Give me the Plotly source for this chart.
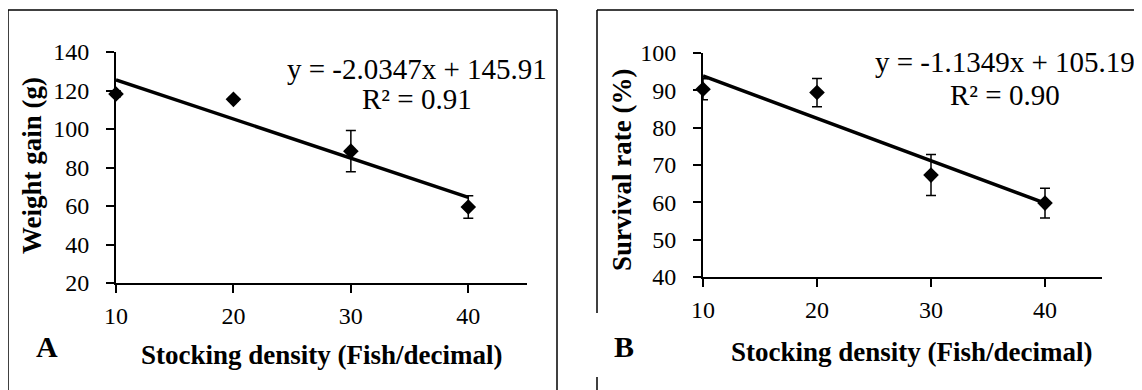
import plotly.graph_objects as go

W, H = 1142, 390
OFF = 8  # page body margin offset

# ---- Data ----
density = [10, 20, 30, 40]

weight_gain = [118.2, 115.4, 88.5, 59.5]
weight_gain_err = [1.5, 1.0, 10.7, 5.8]
wg_slope, wg_intercept = -2.0347, 145.91
wg_eq = "y = -2.0347x + 145.91"
wg_r2 = "R² = 0.91"

survival = [90.3, 89.4, 67.3, 59.8]
survival_err = [2.8, 3.8, 5.5, 4.0]
sr_slope, sr_intercept = -1.1349, 105.19
sr_eq = "y = -1.1349x + 105.19"
sr_r2 = "R² = 0.90"

x_title = "Stocking density (Fish/decimal)"
ya_title = "Weight gain (g)"
yb_title = "Survival rate (%)"


def px(x):
    return (x - OFF) / W


def py(y):
    return 1 - (y - OFF) / H


FONT = "Liberation Serif"

fig = go.Figure()

# Panel A
fig.add_trace(go.Scatter(
    x=density, y=weight_gain, mode="markers",
    marker=dict(symbol="diamond", size=12, color="black"),
    error_y=dict(type="data", array=weight_gain_err, color="black", thickness=1.5, width=5),
    cliponaxis=False, xaxis="x", yaxis="y", showlegend=False))
fit_x = [density[0], density[-1]]
fig.add_trace(go.Scatter(
    x=fit_x, y=[wg_slope * v + wg_intercept for v in fit_x], mode="lines",
    line=dict(color="black", width=3.5), cliponaxis=False,
    xaxis="x", yaxis="y", showlegend=False))

# Panel B
fig.add_trace(go.Scatter(
    x=density, y=survival, mode="markers",
    marker=dict(symbol="diamond", size=12, color="black"),
    error_y=dict(type="data", array=survival_err, color="black", thickness=1.5, width=5),
    cliponaxis=False, xaxis="x2", yaxis="y2", showlegend=False))
fig.add_trace(go.Scatter(
    x=fit_x, y=[sr_slope * v + sr_intercept for v in fit_x], mode="lines",
    line=dict(color="black", width=3.5), cliponaxis=False,
    xaxis="x2", yaxis="y2", showlegend=False))

axis_common = dict(showline=True, linecolor="black", linewidth=2, ticks="outside",
                   ticklen=8, tickwidth=2, tickcolor="black", showgrid=False,
                   zeroline=False, automargin=False,
                   tickfont=dict(family=FONT, size=24, color="black"))

fig.update_layout(
    template="none",
    width=W, height=H, margin=dict(l=0, r=0, t=0, b=0, pad=0), autosize=False,
    paper_bgcolor="white", plot_bgcolor="white",
    font=dict(family=FONT, color="black"),
    xaxis=dict(domain=[px(116), px(527)], range=[10, 45], tickvals=[10, 20, 30, 40],
               anchor="y", ticklabelstandoff=2, **axis_common),
    yaxis=dict(domain=[py(283), py(52)], range=[20, 140], tickvals=list(range(20, 141, 20)),
               anchor="x", ticklabelstandoff=12, **axis_common),
    xaxis2=dict(domain=[px(703), px(1102)], range=[10, 45], tickvals=[10, 20, 30, 40],
                anchor="y2", ticklabelstandoff=2, **axis_common),
    yaxis2=dict(domain=[py(277), py(53)], range=[40, 100], tickvals=list(range(40, 101, 10)),
                anchor="x2", ticklabelstandoff=12, **axis_common),
)

ann = []
eqfont = dict(family=FONT, size=29, color="black")
tfont = dict(family=FONT, size=27, color="black")
lfont = dict(family=FONT, size=30, color="black")
for text, x, y in [(wg_eq, 417, 69), (wg_r2, 417, 99), (sr_eq, 1005, 62), (sr_r2, 1005, 95)]:
    ann.append(dict(text=text, x=px(x), y=py(y), xref="paper", yref="paper",
                    showarrow=False, font=eqfont, xanchor="center", yanchor="middle"))
for text, x, y in [(x_title, 322, 355), (x_title, 912, 352)]:
    ann.append(dict(text="<b>" + text + "</b>", x=px(x), y=py(y), xref="paper", yref="paper",
                    showarrow=False, font=tfont, xanchor="center", yanchor="middle"))
for text, x, y in [(ya_title, 32, 166), (yb_title, 622, 170)]:
    ann.append(dict(text="<b>" + text + "</b>", x=px(x), y=py(y), xref="paper", yref="paper",
                    showarrow=False, font=tfont, textangle=-90, xanchor="center", yanchor="middle"))
for text, x, y in [("A", 47, 346), ("B", 624, 346)]:
    ann.append(dict(text="<b>" + text + "</b>", x=px(x), y=py(y), xref="paper", yref="paper",
                    showarrow=False, font=lfont, xanchor="center", yanchor="middle"))
fig.update_layout(annotations=ann)

# Panel frames
line = dict(color="black", width=1.5)
shapes = [
    dict(type="line", xref="paper", yref="paper", x0=px(8), x1=px(8), y0=py(10), y1=py(400), line=line),
    dict(type="line", xref="paper", yref="paper", x0=px(8), x1=px(557), y0=py(10), y1=py(10), line=line),
    dict(type="line", xref="paper", yref="paper", x0=px(557), x1=px(557), y0=py(10), y1=py(400), line=line),
    dict(type="line", xref="paper", yref="paper", x0=px(597), x1=px(1152), y0=py(10), y1=py(10), line=line),
    dict(type="line", xref="paper", yref="paper", x0=px(597), x1=px(597), y0=py(10), y1=py(313), line=line),
    dict(type="line", xref="paper", yref="paper", x0=px(597), x1=px(597), y0=py(377), y1=py(400), line=line),
]
fig.update_layout(shapes=shapes)

fig.write_html("out.html", config={"responsive": False, "displayModeBar": False})
